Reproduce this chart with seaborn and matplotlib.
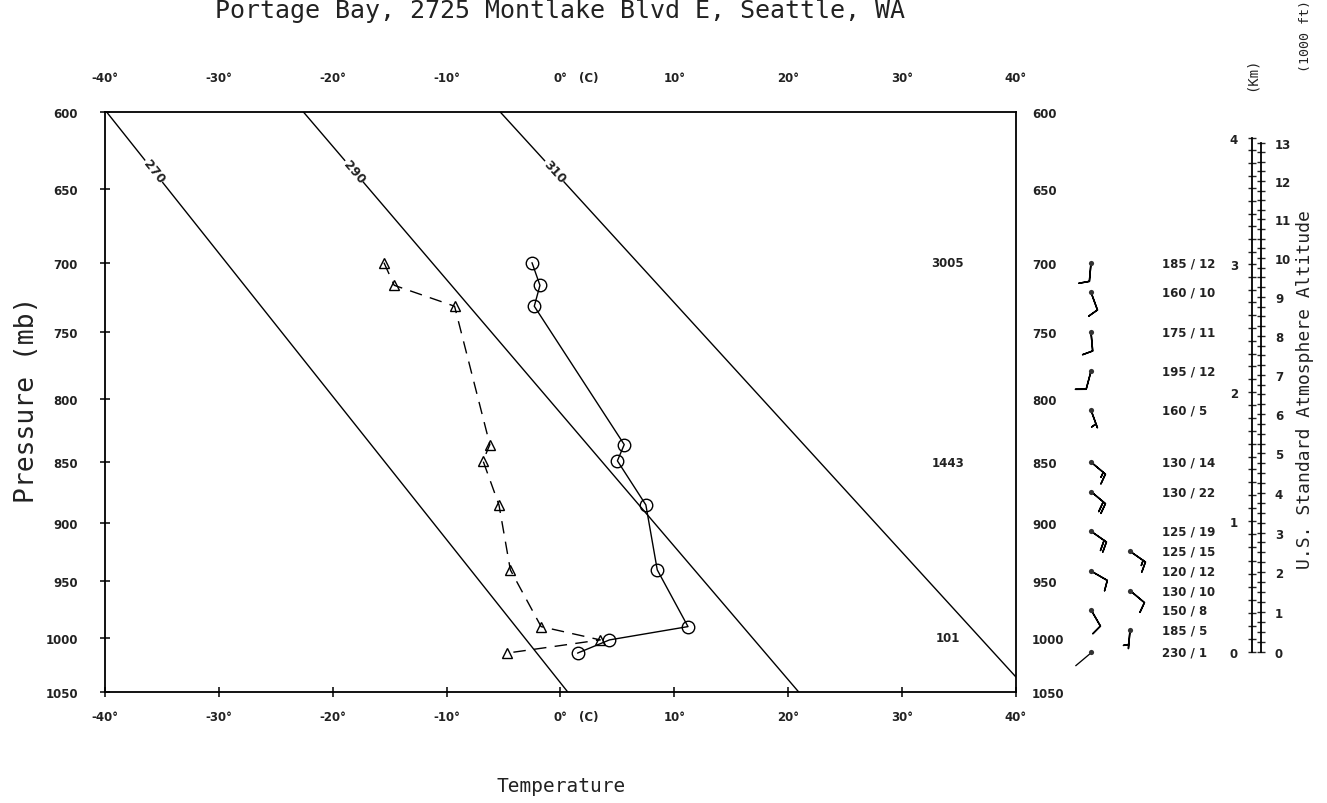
import numpy as np
import matplotlib
matplotlib.use("Agg")
import matplotlib.pyplot as plt
import seaborn as sns

KAPPA = 0.286

title = "Portage Bay, 2725 Montlake Blvd E, Seattle, WA"

# Sounding profile (mb, deg C)
pressure = [700, 716, 731, 836, 849, 885, 940, 990, 1002, 1014]
temperature = [-2.5, -1.8, -2.3, 5.6, 5.0, 7.5, 8.5, 11.2, 4.3, 1.5]
dewpoint = [-15.5, -14.6, -9.3, -6.2, -6.8, -5.4, -4.4, -1.7, 3.5, -4.7]

# Winds (direction deg / speed kt) and the column each barb sits in
wind_pressure = [700, 721, 750, 779, 809, 850, 874, 907, 924, 941, 958, 975, 993, 1013]
wind_dir = [185, 160, 175, 195, 160, 130, 130, 125, 125, 120, 130, 150, 185, 230]
wind_speed = [12, 10, 11, 12, 5, 14, 22, 19, 15, 12, 10, 8, 5, 1]
wind_column = [0, 0, 0, 0, 0, 0, 0, 0, 1, 0, 1, 0, 1, 0]

# Geopotential heights (m) of mandatory levels
height_levels = [700, 850, 1000]
heights = [3005, 1443, 101]

# Dry adiabats (K)
thetas = [270, 290, 310]

pressure_ticks = [600, 650, 700, 750, 800, 850, 900, 950, 1000, 1050]
temp_ticks = [-40, -30, -20, -10, 0, 10, 20, 30, 40]
km_ticks = [0, 1, 2, 3, 4]
kft_ticks = list(range(0, 14))


def stuve(p):
    return np.power(np.clip(p, 1e-6, None), KAPPA)


def stuve_inv(y):
    return np.power(np.clip(y, 1e-6, None), 1.0 / KAPPA)


def std_pressure(h_m):
    return 1013.25 * (1.0 - 2.25577e-5 * np.asarray(h_m, dtype=float)) ** 5.25588


def stuve_axes(a):
    a.set_yscale("function", functions=(stuve, stuve_inv))
    a.set_ylim(1050, 600)


sns.set_theme(style="white")
plt.rcParams["font.family"] = ["DejaVu Sans"]
plt.rcParams["axes.edgecolor"] = "black"

INK = "#222222"
TICK_FONT = dict(fontsize=8.5, fontweight="bold", color=INK)
MONO = "DejaVu Sans Mono"


def style_labels(labels, size=8.5):
    for lab in labels:
        lab.set_fontweight("bold")
        lab.set_fontsize(size)
        lab.set_color(INK)


fig = plt.figure(figsize=(13.27, 8.04), dpi=100)
fig.patch.set_facecolor("white")

RECT_MAIN = [0.0791, 0.138, 0.6865, 0.7214]
ax = fig.add_axes(RECT_MAIN)
stuve_axes(ax)
ax.set_xlim(-40, 40)
for s in ax.spines.values():
    s.set_linewidth(1.3)
    s.set_color("black")

# dry adiabats
p_grid = np.linspace(600, 1050, 200)
for th in thetas:
    t_line = th * (p_grid / 1000.0) ** KAPPA - 273.15
    ax.plot(t_line, p_grid, color="black", lw=1.0, zorder=1)

fig.canvas.draw()
p_lab = 638
for th in thetas:
    t_lab = th * (p_lab / 1000.0) ** KAPPA - 273.15
    p2 = p_lab + 20
    t2 = th * (p2 / 1000.0) ** KAPPA - 273.15
    (x0, y0), (x1, y1) = ax.transData.transform([(t_lab, p_lab), (t2, p2)])
    ang = np.degrees(np.arctan2(y1 - y0, x1 - x0))
    if ang < -90:
        ang += 180
    ax.text(t_lab, p_lab, str(th), rotation=ang, rotation_mode="anchor",
            ha="center", va="center", fontsize=9, fontweight="bold",
            color=INK, zorder=3,
            bbox=dict(boxstyle="square,pad=0.05", fc="white", ec="none"))

# temperature and dew point profiles
sns.lineplot(x=temperature, y=pressure, sort=False, estimator=None, ax=ax,
             color="black", lw=1.0, marker="o", markersize=9,
             markerfacecolor="none", markeredgecolor="black",
             markeredgewidth=1.0, zorder=4)
sns.lineplot(x=dewpoint, y=pressure, sort=False, estimator=None, ax=ax,
             color="black", lw=1.0, linestyle=(0, (9, 6)), marker="^",
             markersize=7, markerfacecolor="none", markeredgecolor="black",
             markeredgewidth=1.0, zorder=4)

for lev, h in zip(height_levels, heights):
    ax.text(34, lev, str(h), ha="center", va="center", **TICK_FONT)

# main ticks: crosses on all four sides, labels left and bottom
ax.set_yticks(pressure_ticks)
ax.set_yticklabels([str(p) for p in pressure_ticks])
ax.yaxis.set_minor_locator(matplotlib.ticker.NullLocator())
ax.set_xticks(temp_ticks)
ax.set_xticklabels([f"{t}\u00b0" for t in temp_ticks])
ax.tick_params(axis="both", which="major", direction="inout", length=7,
               width=1.1, color="black")
ax.tick_params(axis="y", left=True, right=True, labelleft=True,
               labelright=False, pad=16)
ax.tick_params(axis="x", top=True, bottom=True, labeltop=False,
               labelbottom=True, pad=9.5)
style_labels(ax.get_xticklabels() + ax.get_yticklabels())

# right-hand pressure labels
ax_r = ax.twinx()
stuve_axes(ax_r)
ax_r.set_yticks(pressure_ticks)
ax_r.set_yticklabels([str(p) for p in pressure_ticks])
ax_r.yaxis.set_minor_locator(matplotlib.ticker.NullLocator())
ax_r.tick_params(axis="y", length=0, pad=11.5, right=True, labelright=True)
style_labels(ax_r.get_yticklabels())
for s in ax_r.spines.values():
    s.set_visible(False)

# top temperature labels
ax_t = ax.twiny()
ax_t.set_xlim(-40, 40)
ax_t.set_xticks(temp_ticks)
ax_t.set_xticklabels([f"{t}\u00b0" for t in temp_ticks])
ax_t.tick_params(axis="x", length=0, pad=20, top=True, labeltop=True)
style_labels(ax_t.get_xticklabels())
for s in ax_t.spines.values():
    s.set_visible(False)

# (C) tags next to the zero labels
ax.annotate("(C)", xy=(0, 1), xycoords=("data", "axes fraction"),
            xytext=(13.5, 20), textcoords="offset points",
            ha="left", va="bottom", **TICK_FONT)
ax.annotate("(C)", xy=(0, 0), xycoords=("data", "axes fraction"),
            xytext=(13.5, -13), textcoords="offset points",
            ha="left", va="top", **TICK_FONT)

# wind barbs column
ax_w = fig.add_axes([0.7664, 0.138, 0.168, 0.7214])
stuve_axes(ax_w)
ax_w.set_xlim(0, 1)
ax_w.axis("off")
col_x = np.array([0.332, 0.507])
wx = col_x[np.array(wind_column)]
wp = np.array(wind_pressure, dtype=float)
wd = np.radians(np.array(wind_dir, dtype=float))
ws = np.array(wind_speed, dtype=float)
u = -ws * np.sin(wd)
v = -ws * np.cos(wd)
strong = ws >= 2.5
ax_w.barbs(wx[strong], wp[strong], u[strong], v[strong], length=5.2,
           sizes=dict(height=0.55, spacing=0.15, width=0.3),
           linewidth=1.1, color="black", pivot="tip")
light = ~strong
ax_w.quiver(wx[light], wp[light], np.sin(wd[light]), np.cos(wd[light]),
            pivot="tail", units="dots", scale_units="dots", scale=1 / 21.0,
            width=1.3, headwidth=0, headlength=0, headaxislength=0, color="black")
ax_w.scatter(wx, wp, s=14, color="#333333", zorder=5, linewidths=0)
for p, d, s in zip(wind_pressure, wind_dir, wind_speed):
    ax_w.text(0.65, p, f"{d} / {s}", ha="left", va="center", **TICK_FONT)

# standard atmosphere altitude scales
ax_km = fig.add_axes([1252 / 1327, 0.138, 9 / 1327, 0.7214])
ax_ft = ax_km.twinx()
for a in (ax_km, ax_ft):
    stuve_axes(a)
    a.set_xticks([])
    a.set_facecolor("none")
    for s in a.spines.values():
        s.set_visible(False)
ax_km.spines["left"].set_visible(True)
ax_km.spines["left"].set_bounds(std_pressure(4000), std_pressure(0))
ax_km.spines["left"].set_linewidth(1.3)
ax_km.set_yticks(std_pressure(np.array(km_ticks) * 1000.0))
ax_km.set_yticklabels([str(k) for k in km_ticks])
ax_km.set_yticks(std_pressure(np.arange(0, 4.01, 0.1) * 1000.0), minor=True)
ax_km.tick_params(axis="y", which="both", direction="inout", length=6,
                  width=1.0, left=True, right=False, pad=7)
ax_ft.spines["right"].set_visible(True)
ax_ft.spines["right"].set_bounds(std_pressure(13 * 304.8), std_pressure(0))
ax_ft.spines["right"].set_linewidth(1.3)
ax_ft.set_yticks(std_pressure(np.array(kft_ticks) * 304.8))
ax_ft.set_yticklabels([str(k) for k in kft_ticks])
ax_ft.set_yticks(std_pressure(np.arange(0, 13.01, 0.25) * 304.8), minor=True)
ax_ft.tick_params(axis="y", which="both", direction="inout", length=6,
                  width=1.0, right=True, left=False, pad=7)
for a in (ax_km, ax_ft):
    a.yaxis.set_minor_formatter(matplotlib.ticker.NullFormatter())
    style_labels(a.get_yticklabels())

# titles and axis captions
fig.text(0.422, 1 - 18 / 804, title, ha="center", va="baseline",
         family=MONO, fontsize=18, color=INK)
fig.text(27 / 1327, 1 - 400 / 804, "Pressure (mb)", rotation=90,
         ha="center", va="center", family=MONO, fontsize=19, color=INK)
fig.text(561 / 1327, 1 - 787 / 804, "Temperature", ha="center",
         va="center", family=MONO, fontsize=14, color=INK)
fig.text(1305 / 1327, 1 - 390 / 804, "U.S. Standard Atmosphere Altitude",
         rotation=90, ha="center", va="center", family=MONO, fontsize=13,
         color=INK)
fig.text(1252 / 1327, 1 - 74 / 804, "(Km)", rotation=90, ha="center",
         va="center", family=MONO, fontsize=10, color=INK)
fig.text(1305 / 1327, 1 - 36 / 804, "(1000 ft)", rotation=90, ha="center",
         va="center", family=MONO, fontsize=9.5, color=INK)

fig.savefig("out.png", dpi=100, facecolor="white")
